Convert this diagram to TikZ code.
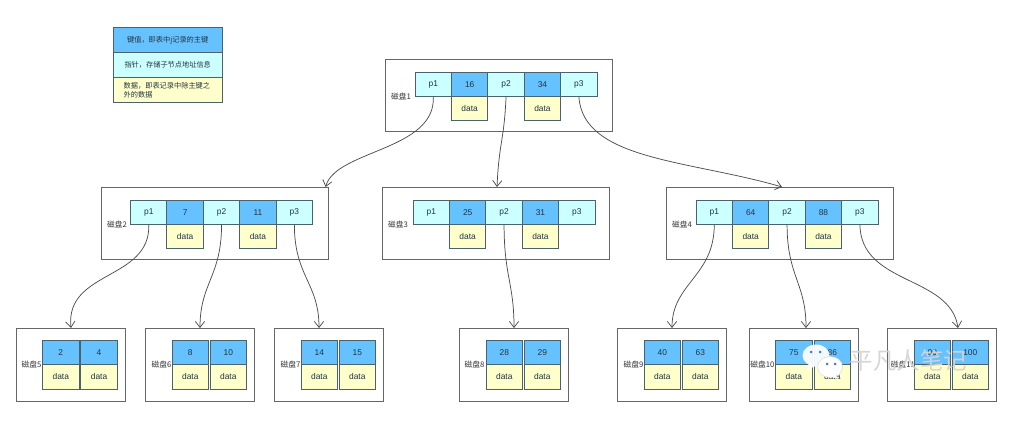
\documentclass[tikz,border=0pt]{standalone}
\usepackage{fontspec}
\setmainfont{Liberation Sans}
\newfontfamily\cjk{Noto Sans CJK SC}
\usetikzlibrary{arrows.meta,calc}
\definecolor{keyblue}{HTML}{66C2FF}
\definecolor{ptrcyan}{HTML}{CCFFFF}
\definecolor{datayel}{HTML}{FFFFCC}
\definecolor{edgec}{HTML}{4A626B}
\definecolor{txtc}{HTML}{22343F}
\tikzset{
  cellbase/.style={draw=edgec,line width=0.7pt,anchor=north west,inner sep=0pt,outer sep=0pt,
    minimum width=27.4pt,minimum height=18.4pt,text=txtc,font=\fontsize{6.3}{7}\selectfont},
  keycell/.style={cellbase,fill=keyblue},
  ptrcell/.style={cellbase,fill=ptrcyan},
  datacell/.style={cellbase,fill=datayel},
  diskbox/.style={draw=black!60,line width=0.7pt,anchor=north west,inner sep=0pt,outer sep=0pt,fill=white},
  disklabel/.style={anchor=center,inner sep=0pt,text=black!80,font=\cjk\fontsize{5.8}{7}\selectfont},
  legendcell/.style={cellbase,minimum width=82.1pt,minimum height=18.9pt,text width=76pt,align=center,
    font=\cjk\fontsize{5.4}{6.6}\selectfont},
  link/.style={draw=black!70,line width=0.55pt,-{Straight Barb[length=4.5pt,width=7pt,line width=0.55pt]}},
  markcloud/.style={fill=white,draw=none},
}
% name, box x, box y, label centre x, label, cell x, keys and pointers
\newcommand{\innerdisk}[9]{%
  \node[diskbox,minimum width=170.7pt,minimum height=54.7pt] (#1) at (#2,#3) {};
  \node[disklabel] (#1l) at (#4,#3+37.5) {#5};
  \node[ptrcell] (#1p1) at (#6,#3+13) {#7};
  \node[keycell] (#1k1) at (#6+36.4,#3+13) {#8};
  \node[ptrcell] (#1p2) at (#6+72.8,#3+13) {p2};
  \node[keycell] (#1k2) at (#6+109.2,#3+13) {#9};
  \node[ptrcell] (#1p3) at (#6+145.6,#3+13) {p3};
  \node[datacell] (#1d1) at (#6+36.4,#3+37.2) {data};
  \node[datacell] (#1d2) at (#6+109.2,#3+37.2) {data};
}
% name, box x, box y, label centre x, label, cell x, second cell x, key1, key2
\newcommand{\leafdisk}[9]{%
  \node[diskbox,minimum width=82.1pt,minimum height=54.9pt] (#1) at (#2,#3) {};
  \node[disklabel] (#1l) at (#4,#3+36) {#5};
  \node[keycell] (#1k1) at (#6,#3+12.3) {#8};
  \node[keycell] (#1k2) at (#7,#3+12.3) {#9};
  \node[datacell] (#1d1) at (#6,#3+36.7) {data};
  \node[datacell] (#1d2) at (#7,#3+36.7) {data};
}
\begin{document}
\begin{tikzpicture}[x=0.75pt,y=-0.75pt]
\useasboundingbox[fill=white] (0,0) rectangle (1016,427);

% legend
\node[legendcell,fill=keyblue] (lk) at (113,27.5) {键值，即表中j记录的主键};
\node[legendcell,fill=ptrcyan] (lp) at (113,52.5) {指针，存储子节点地址信息};
\node[legendcell,fill=datayel,align=left,text width=66pt] (ld) at (113,77.5) {数据，即表记录中除主键之\\外的数据};

\innerdisk{a}{385}{59}{401}{磁盘1}{415}{p1}{16}{34}
\innerdisk{b}{101}{187}{117}{磁盘2}{130.5}{p1}{7}{11}
\innerdisk{c}{382}{187}{398}{磁盘3}{413}{p1}{25}{31}
\innerdisk{e}{666}{187}{682}{磁盘4}{696}{p1}{64}{88}

\leafdisk{f}{16}{328}{31.5}{磁盘5}{42.5}{80.8}{2}{4}
\leafdisk{g}{145}{328}{161.5}{磁盘6}{172}{210}{8}{10}
\leafdisk{h}{274}{328}{290.5}{磁盘7}{301}{339}{14}{15}
\leafdisk{i}{459}{328}{474.5}{磁盘8}{486}{524}{28}{29}
\leafdisk{j}{617}{328}{633.5}{磁盘9}{644}{682}{40}{63}
\leafdisk{k}{749}{328}{762.5}{磁盘10}{775.5}{814}{75}{86}
\leafdisk{m}{887}{328}{903}{磁盘11}{914}{952}{90}{100}

% connectors
\draw[link] (ap1.south) .. controls +(3,54) and +(10,-37) .. ($(b.north east)+(-3,0)$);
\draw[link] (ap2.south) .. controls +(-2,45) and +(2,-45) .. ($(c.north west)+(115,0)$);
\draw[link] (ap3.south) .. controls +(4,64) and +(-92,-27) .. ($(e.north west)+(116,0)$);

\draw[link] (bp1.south) .. controls +(2,56) and +(-6,-58) .. ($(f.north west)+(55,0)$);
\draw[link] (bp2.south) .. controls +(0,52) and +(0,-45) .. ($(g.north west)+(55,0)$);
\draw[link] (bp3.south) .. controls +(0,52) and +(0,-45) .. ($(h.north west)+(45,0)$);
\draw[link] (cp2.south) .. controls +(0,52) and +(0,-45) .. ($(i.north west)+(55,0)$);
\draw[link] (ep1.south) .. controls +(0,52) and +(0,-45) .. ($(j.north west)+(55,0)$);
\draw[link] (ep2.south) .. controls +(0,52) and +(0,-45) .. ($(k.north west)+(57,0)$);
\draw[link] (ep3.south) .. controls +(1,61) and +(-8,-53) .. ($(m.north west)+(71,0)$);

% watermark
\fill[markcloud,opacity=0.92] (816,355.5) ellipse (13.5 and 11);
\fill[markcloud,opacity=0.92] (809,363) -- (806,371) -- (815,366) -- cycle;
\fill[black!12] (830,367) ellipse (12.8 and 10.8);
\fill[white] (830,367) ellipse (12 and 10);
\fill[white] (835,374) -- (838,379) -- (829,376) -- cycle;
\fill[edgec!70!keyblue] (811,352) circle (1.5) (820,352) circle (1.5) (827,364) circle (1.5) (835,364) circle (1.5);
\node[anchor=center,inner sep=0pt,text=black!17,opacity=0.95,font=\cjk\fontsize{17.6}{19}\selectfont] (wm) at (908.5,361) {平凡人笔记};
\end{tikzpicture}
\end{document}
